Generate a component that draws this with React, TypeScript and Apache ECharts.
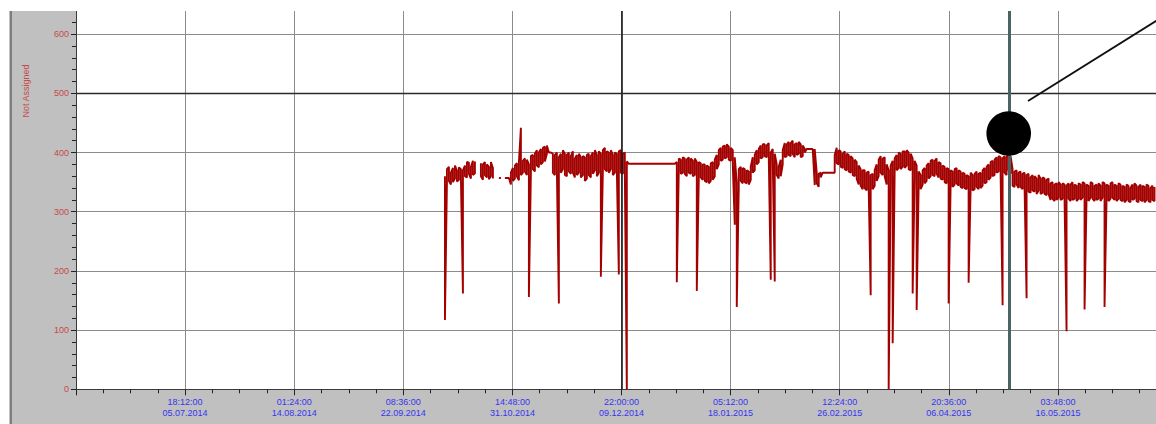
import React, { useEffect, useRef } from "react";
import * as echarts from "echarts";

// Time axis: days since 27.05.2014 11:00:00 CEST (= 09:00 UTC)
const ORIGIN_UTC = Date.UTC(2014, 4, 27, 9, 0, 0);
const X_TICK_DAYS = 39.3;
const X_MAX_DAYS = 393;
const Y_MAX = 700;
const Y_TICK = 100;
const Y_LABELS = [0, 100, 200, 300, 400, 500, 600];
const Y_NAME = "Not Assigned";

// Reference lines
const MARK_DAY = 196.5; // 09.12.2014 22:00
const LIMIT_VALUE = 500;
const CURSOR_DAY = 336.05;

// Min / max of the signal in each sampling bucket (null = no data)
const SAMPLE_START_DAY = 132.9;
const SAMPLE_STEP_DAY = 0.72;
const highs: (number | null)[] = [
  360, 372, 376, 366, 374, 378, 370, 375, 372, 370,
  378, 384, 383, 376, 386, 385, null, null, 382, 380,
  384, 380, 376, 384, 374, null, null, 357, 357, null,
  357, 357, 357, 366, 374, 378, 382, 384, 442, 386,
  390, 388, 380, 394, 396, 398, 404, 400, 406, 408,
  410, 412, 400, 400, 398, 396, 400, 392, 398, 404,
  398, 396, 400, 394, 402, 390, 396, 398, 392, 394,
  392, 396, 398, 394, 400, 404, 396, 402, 398, 404,
  408, 402, 400, 404, 396, 400, 398, 402, 404, 398,
  400, 385, 381, 381, 381, 381, 381, 381, 381, 381,
  381, 381, 381, 381, 381, 381, 381, 381, 381, 381,
  381, 381, 381, 381, 381, 381, 384, 390, 388, 392,
  390, 388, 392, 390, 386, 390, 384, 384, 382, 380,
  380, 378, 376, 382, 384, 388, 396, 404, 408, 410,
  412, 414, 410, 408, 404, 392, 350, 372, 376, 374,
  372, 370, 368, 376, 392, 396, 404, 406, 412, 414,
  414, 412, 416, 400, 406, 398, 380, 376, 388, 404,
  416, 414, 418, 416, 420, 414, 416, 418, 414, 412,
  406, 406, 406, 406, 406, 406, 366, 364, 366, 366,
  366, 366, 366, 366, 366, 396, 408, 404, 402, 398,
  402, 398, 396, 394, 390, 388, 384, 378, 372, 370,
  370, 366, 368, 362, 364, 370, 380, 388, 394, 390,
  392, 380, 370, 378, 386, 390, 396, 400, 398, 402,
  402, 404, 400, 398, 390, 386, 378, 368, 362, 370,
  374, 378, 382, 386, 388, 386, 390, 384, 382, 378,
  376, 374, 372, 370, 368, 372, 374, 370, 368, 366,
  364, 362, 360, 366, 362, 364, 368, 364, 366, 370,
  374, 376, 380, 384, 386, 388, 392, 394, 392, 390,
  394, 392, 398, 394, 372, 368, 370, 366, 368, 364,
  366, 362, 364, 358, 362, 360, 356, 362, 356, 358,
  356, 354, 356, 348, 350, 346, 348, 350, 346, 348,
  346, 344, 348, 346, 350, 346, 344, 348, 346, 350,
  348, 346, 344, 350, 348, 344, 346, 348, 344, 350,
  348, 346, 344, 348, 350, 346, 344, 348, 346, 344,
  342, 346, 344, 340, 346, 348, 344, 342, 346, 344,
  342, 346, 344, 340, 344, 342,
];
const lows: (number | null)[] = [
  117, 350, 352, 346, 350, 356, 351, 354, 355, 162,
  360, 358, 364, 356, 362, 365, null, null, 360, 354,
  362, 358, 355, 360, 356, null, null, 357, 357, null,
  357, 357, 357, 346, 352, 356, 360, 353, 362, 366,
  368, 362, 156, 366, 372, 368, 378, 375, 380, 384,
  385, 398, 400, 400, 366, 362, 370, 145, 366, 372,
  362, 360, 368, 364, 366, 358, 362, 366, 358, 362,
  352, 356, 362, 358, 364, 370, 360, 366, 190, 368,
  372, 368, 366, 372, 362, 366, 370, 194, 366, 364,
  366, 0, 381, 381, 381, 381, 381, 381, 381, 381,
  381, 381, 381, 381, 381, 381, 381, 381, 381, 381,
  381, 381, 381, 381, 381, 381, 181, 372, 364, 366,
  364, 360, 366, 364, 360, 362, 166, 356, 358, 354,
  352, 350, 348, 352, 354, 360, 372, 380, 386, 388,
  390, 392, 388, 386, 380, 278, 139, 340, 352, 348,
  350, 348, 346, 354, 366, 370, 380, 384, 390, 392,
  394, 392, 394, 185, 388, 182, 362, 356, 360, 380,
  392, 394, 396, 394, 398, 392, 396, 398, 392, 394,
  400, 406, 406, 406, 406, 345, 348, 342, 358, 366,
  366, 366, 366, 366, 366, 366, 382, 380, 376, 374,
  372, 370, 368, 366, 362, 360, 356, 346, 344, 338,
  340, 336, 340, 159, 338, 344, 352, 360, 366, 362,
  360, 346, 0, 350, 78, 368, 370, 374, 372, 376,
  374, 378, 372, 370, 162, 356, 134, 344, 338, 346,
  348, 352, 356, 360, 362, 360, 364, 358, 356, 354,
  350, 348, 145, 346, 342, 346, 348, 344, 342, 340,
  340, 338, 180, 340, 336, 338, 342, 338, 340, 344,
  348, 350, 354, 358, 360, 362, 366, 368, 364, 142,
  366, 362, 370, 364, 344, 342, 346, 340, 342, 338,
  340, 154, 334, 332, 336, 334, 330, 336, 330, 332,
  330, 328, 330, 320, 322, 318, 320, 324, 320, 322,
  320, 98, 322, 318, 320, 322, 318, 322, 320, 324,
  135, 322, 318, 324, 322, 318, 320, 322, 318, 324,
  139, 320, 318, 322, 324, 320, 318, 322, 320, 318,
  316, 320, 318, 316, 320, 322, 318, 316, 320, 318,
  316, 320, 318, 316, 320, 318,
];

const lastSundayUTC = (year: number, month: number) => {
  const d = new Date(Date.UTC(year, month + 1, 0, 1, 0, 0));
  d.setUTCDate(d.getUTCDate() - d.getUTCDay());
  return d.getTime();
};
const cetOffsetHours = (t: number) => {
  const y = new Date(t).getUTCFullYear();
  return t >= lastSundayUTC(y, 2) && t < lastSundayUTC(y, 9) ? 2 : 1;
};
const p2 = (n: number) => String(n).padStart(2, "0");
const formatX = (v: number) => {
  const t = ORIGIN_UTC + Math.round((v * 86400000) / 60000) * 60000;
  const d = new Date(t + cetOffsetHours(t) * 3600000);
  return (
    `${p2(d.getUTCHours())}:${p2(d.getUTCMinutes())}:${p2(d.getUTCSeconds())}\n` +
    `${p2(d.getUTCDate())}.${p2(d.getUTCMonth() + 1)}.${d.getUTCFullYear()}`
  );
};

// The chart canvas is larger than the window (the plot is cut at the top and right)
const OY = 25;
const W = 1167;
const H = 424 + OY;

export default function App() {
  const ref = useRef<HTMLDivElement>(null);
  useEffect(() => {
    if (!ref.current) return;
    const chart = echarts.init(ref.current, undefined, { renderer: "svg" });
    // min/max envelope drawn as a serpentine polyline (one vertical stroke per bucket)
    const data: (number | string)[][] = [];
    highs.forEach((hi, i) => {
      const lo = lows[i];
      const x = +(SAMPLE_START_DAY + i * SAMPLE_STEP_DAY).toFixed(3);
      if (hi === null || lo === null) {
        data.push([x, "-"]);
        return;
      }
      const pair = i % 2 === 0 ? [hi, lo] : [lo, hi];
      data.push([x, pair[0]], [x, pair[1]]);
    });
    const font = "Liberation Sans";
    chart.setOption({
      animation: false,
      backgroundColor: "#ffffff",
      textStyle: { fontFamily: font },
      grid: { left: 76, right: 0, top: 0, bottom: H - (389.3 + OY) },
      xAxis: {
        type: "value",
        min: 0,
        max: X_MAX_DAYS,
        interval: X_TICK_DAYS,
        axisLine: { show: true, lineStyle: { color: "#3a3a3a", width: 1 } },
        axisTick: { show: true, length: 6, lineStyle: { color: "#222" } },
        minorTick: { show: true, splitNumber: 4, length: 4, lineStyle: { color: "#222" } },
        axisLabel: {
          formatter: formatX,
          showMinLabel: false,
          showMaxLabel: false,
          color: "#3535f0",
          fontSize: 9,
          lineHeight: 11,
          margin: 7,
          fontFamily: font,
        },
        splitLine: { show: true, showMinLine: false, lineStyle: { color: "#8c8c8c", width: 1 } },
      },
      yAxis: {
        type: "value",
        min: 0,
        max: Y_MAX,
        interval: Y_TICK,
        axisLine: { show: true, lineStyle: { color: "#3a3a3a", width: 1 } },
        axisTick: { show: true, length: 5, lineStyle: { color: "#222" } },
        minorTick: { show: true, splitNumber: 5, length: 4, lineStyle: { color: "#222" } },
        axisLabel: {
          formatter: (v: number) => (Y_LABELS.includes(v) ? String(v) : ""),
          color: "#c84848",
          fontSize: 9,
          margin: 7,
          fontFamily: font,
        },
        splitLine: { show: true, showMinLine: false, lineStyle: { color: "#8c8c8c", width: 1 } },
      },
      series: [
        {
          type: "line",
          data,
          showSymbol: false,
          symbol: "none",
          connectNulls: false,
          z: 3,
          emphasis: { disabled: true },
          lineStyle: { color: "#a30000", width: 1.9 },
          itemStyle: { color: "#a30000" },
          markLine: {
            silent: true,
            symbol: ["none", "none"],
            label: { show: false },
            data: [
              { xAxis: MARK_DAY, lineStyle: { color: "#1a1a1a", width: 1.6, type: "solid" } },
              { yAxis: LIMIT_VALUE, lineStyle: { color: "#2a2a2a", width: 1.3, type: "solid" } },
              { xAxis: CURSOR_DAY, lineStyle: { color: "#4a6464", width: 3, type: "solid" } },
            ],
          },
        },
      ],
      graphic: [
        { type: "rect", z: -10, silent: true, shape: { x: 10, y: 11 + OY, width: 66, height: 413 }, style: { fill: "#c0c0c0" } },
        { type: "rect", z: -10, silent: true, shape: { x: 10, y: 389.5 + OY, width: W - 10, height: 35 }, style: { fill: "#c0c0c0" } },
        { type: "rect", z: -9, silent: true, shape: { x: 9.5, y: 11 + OY, width: 2.5, height: 413 }, style: { fill: "#7e7e7e" } },
        { type: "rect", z: 50, silent: true, shape: { x: 0, y: 0, width: W, height: 11 + OY }, style: { fill: "#ffffff" } },
        {
          type: "text",
          z: 51,
          silent: true,
          x: 26,
          y: 91 + OY,
          rotation: Math.PI / 2,
          style: {
            text: Y_NAME,
            fill: "#c84848",
            font: `9px "${font}"`,
            textAlign: "center",
            textVerticalAlign: "middle",
            align: "center",
            verticalAlign: "middle",
          },
        },
        { type: "circle", z: 60, silent: true, shape: { cx: 1008.7, cy: 133.5 + OY, r: 22.3 }, style: { fill: "#000000" } },
        { type: "line", z: 60, silent: true, shape: { x1: 1028, y1: 101 + OY, x2: 1172, y2: 11 + OY }, style: { stroke: "#111111", lineWidth: 2 } },
      ],
    });
    return () => chart.dispose();
  }, []);
  return (
    <div
      ref={ref}
      style={{ position: "fixed", left: 0, top: -OY, width: W, height: H }}
    />
  );
}
